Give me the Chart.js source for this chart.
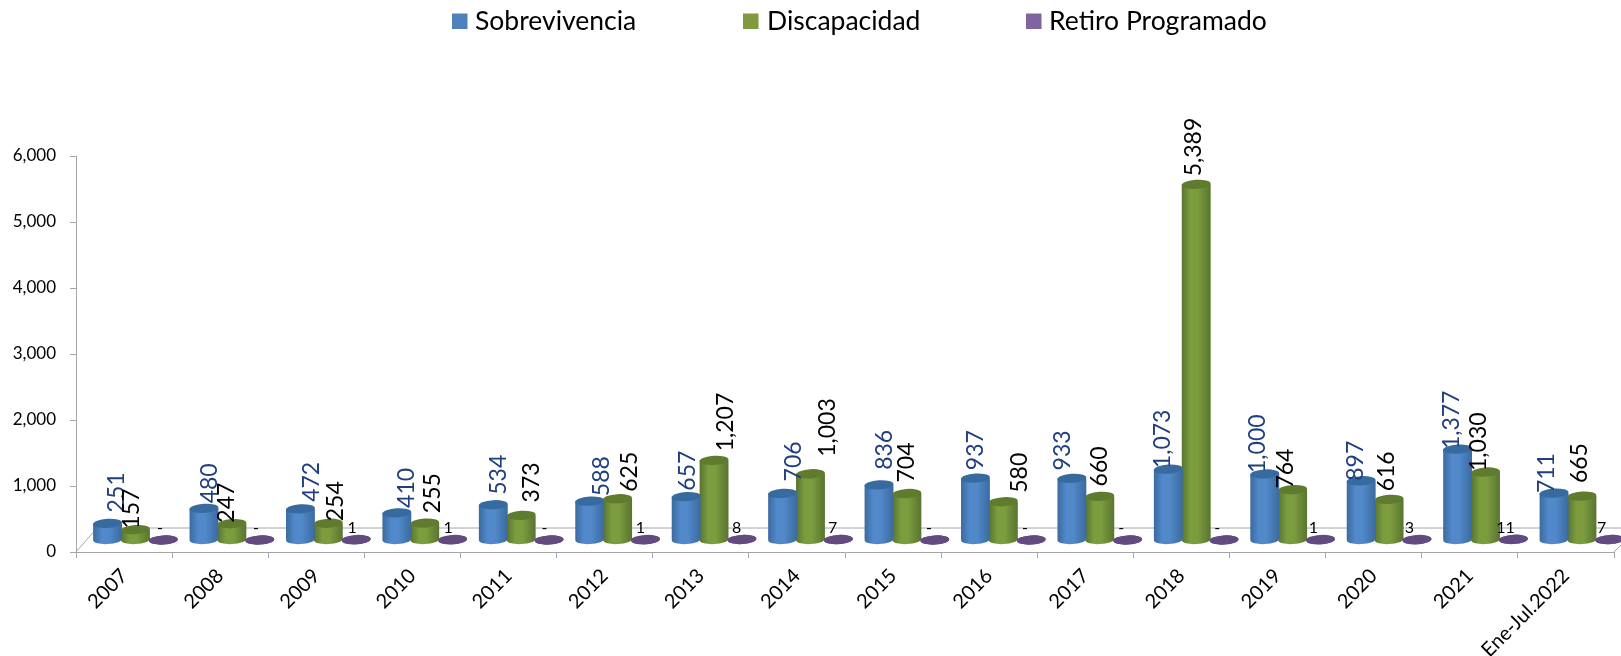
<!DOCTYPE html>
<html lang="es">
<head>
<meta charset="utf-8">
<title>Sobrevivencia, Discapacidad y Retiro Programado</title>
<style>
  html, body { margin: 0; padding: 0; background: #fff; overflow: hidden; }
  canvas { display: block; }
</style>
<script src="https://cdn.jsdelivr.net/npm/chart.js@4/dist/chart.umd.min.js"></script>
</head>
<body>
<canvas id="grafica" width="1621" height="656"></canvas>
<script>
const categorias = ['2007', '2008', '2009', '2010', '2011', '2012', '2013', '2014', '2015', '2016', '2017', '2018', '2019', '2020', '2021', 'Ene-Jul.2022'];
const sobrevivencia = [251, 480, 472, 410, 534, 588, 657, 706, 836, 937, 933, 1073, 1000, 897, 1377, 711];
const discapacidad = [157, 247, 254, 255, 373, 625, 1207, 1003, 704, 580, 660, 5389, 764, 616, 1030, 665];
const retiro = [0, 0, 1, 1, 0, 1, 8, 7, 0, 0, 0, 0, 1, 3, 11, 7];

// Ajuste manual de cada etiqueta respecto a su barra (en el original se movieron a mano)
const ajusteX = [
  [9, 6, 11, 10, 5.5, 12, 1, 11, 6, 0, -9, -6, -7, -6, -6, -7],
  [-4, -5, 7, 8, 10, 12, 12, 17, 0, 16, 0, -3, -7, -2.5, -7, -2]
];
const ajusteY = [
  [-11, -5, -7, -5, -10, -5, -6, -12, -15, -8, -8, -1, -1, 0, 0, 0],
  [-1, -1, -2, -10, -13, -7, -9, -17, -11, -9, -10, -8, -1, -8, -1, -13]
];

// Desplazamiento del piso 3D respecto a los ejes
const DX = 11;
const DY = -12;
const EX = 1.0032;
const RY = 4.6;
const INCLINA = -0.06;
const PASO = 0.868 / 3;
const FUENTE = 'Lato, "Open Sans", sans-serif';
const fmt = new Intl.NumberFormat('en-US');

function cilindro(colorBase, borde, centro) {
  return function (ctx) {
    if (ctx.type !== 'data' || !ctx.chart.scales.x) return colorBase;
    const xs = ctx.chart.scales.x;
    const paso = (xs.width / categorias.length) * PASO;
    const ancho = paso * 1.035;
    const cx = xs.getPixelForValue(ctx.dataIndex) + (ctx.datasetIndex - 1) * paso;
    if (!Number.isFinite(cx) || !Number.isFinite(ancho)) return colorBase;
    const g = ctx.chart.ctx.createLinearGradient(cx - ancho / 2, 0, cx + ancho / 2, 0);
    g.addColorStop(0, borde);
    g.addColorStop(0.3, centro);
    g.addColorStop(0.55, centro);
    g.addColorStop(1, borde);
    return g;
  };
}

const colorTapa = ['#376A9F', '#5F7B2E', '#634A80'];
const colorLeyenda = ['#4F81BD', '#7F9A3F', '#8064A2'];
const leyendaCuadro = [452, 743, 1026];
const leyendaTexto = [475, 767, 1049];

const plugin3d = {
  id: 'plugin3d',
  beforeDatasetsDraw(chart) {
    const { ctx, scales: { x, y } } = chart;
    const y0 = y.getPixelForValue(0);
    // pared y piso del fondo
    ctx.save();
    ctx.strokeStyle = '#a6a6a6';
    ctx.lineWidth = 1;
    ctx.beginPath();
    ctx.moveTo(x.left, y0);
    ctx.lineTo(x.left + 21, y0 - 24);
    ctx.lineTo(chart.width, y0 - 24);
    ctx.moveTo(x.right, y0);
    ctx.lineTo(chart.width, y0 - 7);
    ctx.stroke();
    ctx.restore();
    ctx.save();
    ctx.translate(DX, DY);
    ctx.scale(EX, 1);
  },
  afterDatasetsDraw(chart) {
    const { ctx } = chart;
    chart.data.datasets.forEach((ds, i) => {
      chart.getDatasetMeta(i).data.forEach((bar) => {
        const rx = bar.width / 2;
        // base redondeada
        ctx.fillStyle = bar.options.backgroundColor;
        ctx.beginPath();
        ctx.ellipse(bar.x, bar.base, rx, RY, INCLINA, 0, Math.PI * 2);
        ctx.fill();
        // tapa
        ctx.fillStyle = colorTapa[i];
        ctx.beginPath();
        ctx.ellipse(bar.x, bar.y, rx, RY, INCLINA, 0, Math.PI * 2);
        ctx.fill();
      });
    });
    ctx.restore();

    // etiquetas de valores
    ctx.save();
    chart.data.datasets.forEach((ds, i) => {
      chart.getDatasetMeta(i).data.forEach((bar, j) => {
        const v = ds.data[j];
        const txt = v === 0 ? '-' : fmt.format(v);
        if (i === 2) {
          ctx.font = '16px ' + FUENTE;
          ctx.fillStyle = '#000';
          ctx.textAlign = 'center';
          ctx.textBaseline = 'middle';
          ctx.fillText(txt, bar.x + DX - 3, bar.base + DY - 12);
        } else {
          ctx.save();
          ctx.font = '23px ' + FUENTE;
          ctx.fillStyle = i === 0 ? '#1F3F7F' : '#000';
          ctx.textAlign = 'left';
          ctx.textBaseline = 'middle';
          ctx.translate(bar.x * EX + DX + ajusteX[i][j], bar.y + DY + ajusteY[i][j]);
          ctx.rotate(-Math.PI / 2);
          ctx.fillText(txt, 0, 0);
          ctx.restore();
        }
      });
    });

    // leyenda
    ctx.font = '26.5px ' + FUENTE;
    ctx.textAlign = 'left';
    ctx.textBaseline = 'middle';
    chart.data.datasets.forEach((ds, i) => {
      ctx.fillStyle = colorLeyenda[i];
      ctx.fillRect(leyendaCuadro[i], 13.5, 15.5, 15.5);
      ctx.fillStyle = '#000';
      ctx.fillText(ds.label, leyendaTexto[i], 21);
    });
    ctx.restore();
  }
};

new Chart(document.getElementById('grafica').getContext('2d'), {
  type: 'bar',
  data: {
    labels: categorias,
    datasets: [
      { label: 'Sobrevivencia', data: sobrevivencia, backgroundColor: cilindro('#4F81BD', '#3B6A9F', '#5189CA'), clip: false },
      { label: 'Discapacidad', data: discapacidad, backgroundColor: cilindro('#7F9A3F', '#587530', '#7C9C3E'), clip: false },
      { label: 'Retiro Programado', data: retiro, backgroundColor: cilindro('#8064A2', '#634A80', '#6F5590'), clip: false }
    ]
  },
  options: {
    responsive: false,
    animation: false,
    categoryPercentage: 0.868,
    barPercentage: 1.035,
    layout: { padding: { top: 156, right: 7, left: 0, bottom: 0 } },
    plugins: {
      tooltip: { enabled: false },
      legend: { display: false }
    },
    scales: {
      x: {
        afterFit(s) { s.height = 104; },
        border: { color: '#a6a6a6' },
        grid: { offset: true, drawOnChartArea: false, drawTicks: true, tickLength: 6, color: '#a6a6a6' },
        ticks: {
          autoSkip: false,
          minRotation: 45,
          maxRotation: 45,
          color: '#000',
          padding: 6,
          font: { family: FUENTE, size: 20 }
        }
      },
      y: {
        min: 0,
        max: 6000,
        afterFit(s) { s.width = 76; },
        border: { color: '#a6a6a6' },
        grid: { drawOnChartArea: false, drawTicks: true, tickLength: 6, color: '#a6a6a6' },
        ticks: {
          stepSize: 1000,
          color: '#000',
          padding: 14,
          font: { family: FUENTE, size: 17 },
          callback: v => fmt.format(v)
        }
      }
    }
  },
  plugins: [plugin3d]
});
</script>
</body>
</html>
